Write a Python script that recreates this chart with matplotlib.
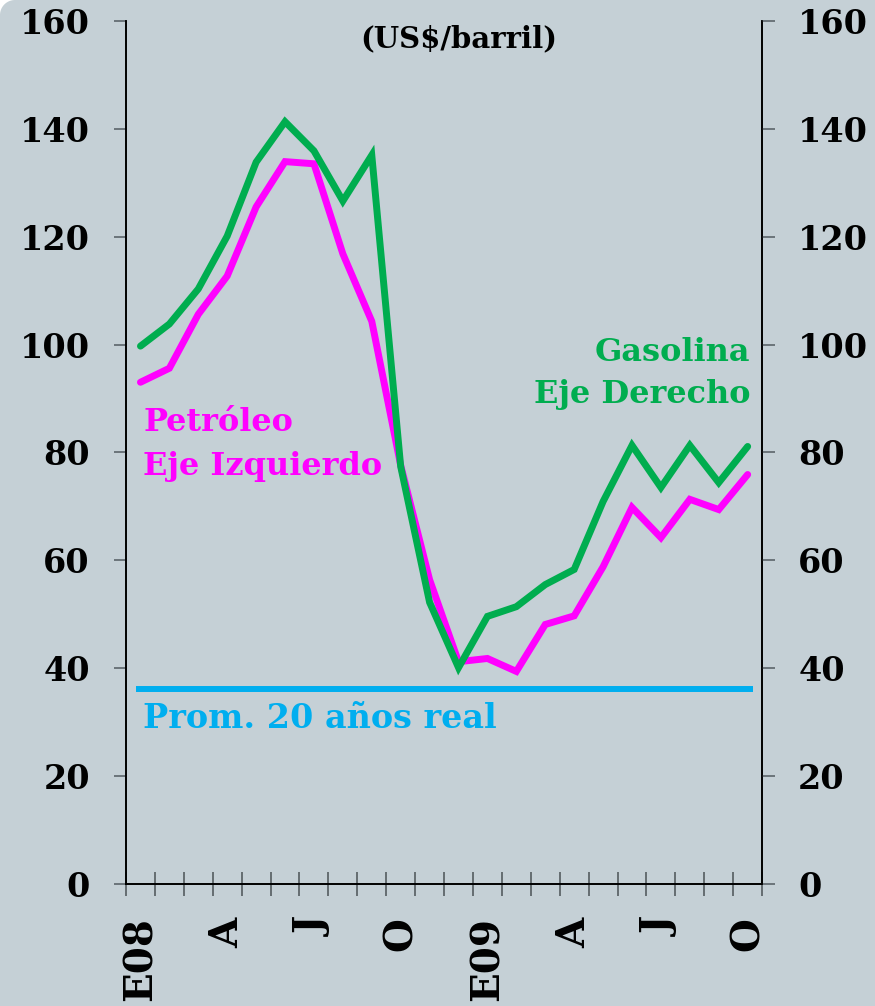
import numpy as np
import matplotlib
matplotlib.use("Agg")
import matplotlib.pyplot as plt
from matplotlib.patches import Polygon

# monthly prices, Jan 2008 - Oct 2009
months = list(range(22))
petroleo = [93.0, 95.6, 105.6, 112.7, 125.5, 133.9, 133.5, 116.8, 104.3, 77.6, 56.4,
            41.2, 41.8, 39.4, 48.1, 49.7, 58.8, 69.8, 64.2, 71.3, 69.4, 75.9]
gasolina = [99.7, 103.8, 110.3, 120.1, 133.8, 141.3, 135.9, 126.6, 135.1, 77.4, 52.2,
            40.1, 49.6, 51.4, 55.5, 58.3, 70.9, 81.3, 73.5, 81.3, 74.4, 81.1]
promedio_20 = 36.2
xlabels_pos = [0, 3, 6, 9, 12, 15, 18, 21]
xlabels = ["E08", "A", "J", "O", "E09", "A", "J", "O"]
yticks = [0, 20, 40, 60, 80, 100, 120, 140, 160]

bg = "#c5d0d6"
green = "#00ad4f"
magenta = "#ff00ff"
blue = "#00aeef"
font = "DejaVu Serif"

W, H = 875, 1006
fig = plt.figure(figsize=(W / 100, H / 100), dpi=100, facecolor=bg)

# rounded white corner, top left
R = 15
th = np.linspace(np.pi / 2, np.pi, 20)
pts = [(0, H)] + [(R + R * np.cos(t), H - R + R * np.sin(t)) for t in th]
pts = [(px / W, py / H) for px, py in pts]
fig.patches.append(Polygon(pts, closed=True, transform=fig.transFigure,
                           facecolor="white", edgecolor="none"))

ax = fig.add_axes([0.144, 0.1213, 0.727, 0.858], facecolor=bg)
ax2 = ax.twinx()

ax.hlines(promedio_20, -0.15, 21.17, color=blue, lw=4.3)
ax.plot(months, petroleo, color=magenta, lw=5, solid_capstyle="round", solid_joinstyle="miter", zorder=3)
ax2.plot(months, gasolina, color=green, lw=5, solid_capstyle="round", solid_joinstyle="miter", zorder=3)

for a in (ax, ax2):
    a.set_xlim(-0.5, 21.5)
    a.set_ylim(0, 160)
    a.set_yticks(yticks)
    a.spines["top"].set_visible(False)
    for s in a.spines.values():
        s.set_linewidth(1.2)
        s.set_color("black")
    a.tick_params(axis="y", direction="out", length=9, width=1.4, color="#6b747a",
                  labelsize=24, pad=17)
    for lab in a.get_yticklabels():
        lab.set_fontfamily(font)
        lab.set_fontweight("bold")

ax.set_xticks(np.arange(-0.5, 22, 1))
ax.set_xticklabels([])
ax.set_xticks(xlabels_pos, minor=True)
ax.set_xticklabels(xlabels, minor=True, rotation=90, fontsize=28,
                   fontfamily=font, fontweight="bold", va="top")
ax.tick_params(axis="x", which="major", direction="inout", length=17, width=1.2, color="#555c60")
ax.tick_params(axis="x", which="minor", length=0, pad=24)

txt = dict(fontfamily=font, fontweight="bold", va="center")
ax.text(11.0, 156.7, "(US$/barril)", ha="center", fontsize=21, color="black", **txt)
ax.text(0.1, 85.6, "Petróleo", ha="left", fontsize=23, color=magenta, **txt)
ax.text(0.1, 77.4, "Eje Izquierdo", ha="left", fontsize=23, color=magenta, **txt)
ax.text(21.1, 98.6, "Gasolina", ha="right", fontsize=23, color=green, **txt)
ax.text(21.1, 90.8, "Eje Derecho", ha="right", fontsize=23, color=green, **txt)
ax.text(0.1, 30.6, "Prom. 20 años real", ha="left", fontsize=24, color=blue, **txt)

fig.savefig("out.png", dpi=100, facecolor=bg)
